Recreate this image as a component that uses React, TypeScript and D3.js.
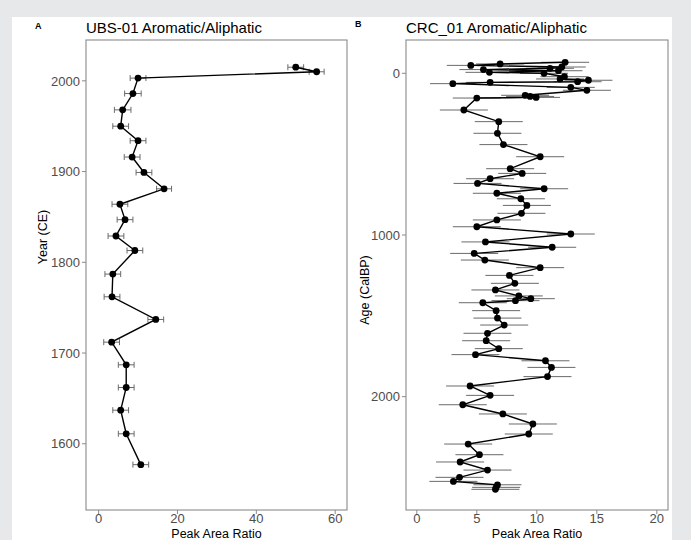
import React from "react";
import { scaleLinear, line } from "d3";

// panel A: UBS-01
const ubsYear = [2015, 2010, 2003, 1986, 1968, 1950, 1934, 1916, 1899, 1881, 1864, 1847, 1829, 1813, 1787, 1762, 1737, 1712, 1687, 1662, 1637, 1611, 1577];
const ubsRatio = [50, 55.3, 10, 8.7, 6.1, 5.6, 10, 8.5, 11.5, 16.6, 5.4, 6.7, 4.4, 9.2, 3.6, 3.4, 14.5, 3.3, 7, 7, 5.6, 7, 10.7];
const ubsErr = [2.0, 1.9, 2.0, 2.1, 2.1, 2.0, 2.0, 2.0, 2.0, 1.9, 2.0, 2.0, 2.0, 2.0, 2.0, 2.0, 2.0, 2.0, 2.0, 2.0, 2.0, 2.0, 2.0];
const ubsXTicks = [0, 20, 40, 60];
const ubsYTicks = [1600, 1700, 1800, 1900, 2000];

// panel B: CRC_01
const crcAge = [-68, -58, -49, -39, -31, -23, -16, -6, 0, 21, 35, 43, 52, 56, 64, 87, 105, 136, 143, 149, 153, 227, 299, 371, 441, 516, 590, 619, 652, 681, 714, 742, 776, 817, 866, 907, 949, 994, 1043, 1076, 1114, 1155, 1202, 1250, 1299, 1340, 1377, 1394, 1406, 1419, 1468, 1514, 1557, 1608, 1654, 1703, 1740, 1778, 1819, 1876, 1934, 1992, 2050, 2107, 2169, 2231, 2293, 2359, 2404, 2454, 2499, 2524, 2545, 2561, 2573];
const crcRatio = [12.36, 6.94, 4.5, 12.08, 11.1, 5.55, 11.8, 6.05, 10.6, 12.3, 11.94, 14.3, 13.4, 6.11, 3.0, 12.83, 14.17, 9.03, 9.44, 9.94, 5.0, 3.92, 6.83, 6.72, 7.22, 10.28, 7.78, 8.78, 6.11, 5.06, 10.61, 6.67, 8.67, 9.17, 8.72, 6.67, 5.0, 12.83, 5.72, 11.28, 4.78, 5.67, 10.28, 7.72, 8.17, 6.55, 8.5, 9.5, 8.22, 5.5, 6.61, 6.72, 7.28, 5.89, 5.78, 6.83, 4.89, 10.72, 11.22, 10.89, 4.44, 6.11, 3.83, 7.17, 9.67, 9.33, 4.28, 5.22, 3.61, 5.89, 3.56, 3.05, 6.72, 6.61, 6.55];
const crcErr = [2.0, 2.0, 2.0, 2.0, 2.0, 2.0, 2.0, 2.0, 2.0, 2.0, 2.0, 2.0, 2.0, 2.0, 1.9, 2.0, 2.0, 2.0, 2.0, 2.0, 2.0, 2.0, 2.0, 2.0, 2.0, 2.0, 2.0, 2.0, 2.0, 2.0, 2.0, 2.0, 2.0, 2.0, 2.0, 2.0, 2.0, 2.0, 2.0, 2.0, 2.0, 2.0, 2.0, 2.0, 2.0, 2.0, 2.0, 2.0, 2.0, 2.0, 2.0, 2.0, 2.0, 2.0, 2.0, 2.0, 2.0, 2.0, 2.0, 2.0, 2.0, 2.0, 2.0, 2.0, 2.0, 2.0, 2.0, 2.0, 2.0, 2.0, 2.0, 2.0, 2.0, 2.0, 2.0];
const crcXTicks = [0, 5, 10, 15, 20];
const crcYTicks = [0, 1000, 2000];

const FONT = "'Liberation Sans', Arial, sans-serif";
const TICK_COL = "#4d4d4d";
const BOX_COL = "#8a8a8a";

function Panel(props) {
  const { tag, tagY, title, yTitle, yTitleX, yTitleY, left, right, top, bottom, xDomain, yDomain,
    xs, ys, errs, xTicks, yTicks, capH } = props;
  const x = scaleLinear().domain(xDomain).range([left, right]);
  const y = scaleLinear().domain(yDomain).range([bottom, top]);
  const path = line()
    .x((d) => x(d[0]))
    .y((d) => y(d[1]));
  const pts = xs.map((v, i) => [v, ys[i]]);
  const clipId = "clip-" + tag;

  return (
    <g>
      <text x={left - 51} y={tagY} fontSize={9} fontWeight="bold" fontFamily={FONT}>{tag}</text>
      <text x={left} y={33} fontSize={15} fontFamily={FONT} fill="#000">{title}</text>
      <defs>
        <clipPath id={clipId}>
          <rect x={left} y={top} width={right - left} height={bottom - top} />
        </clipPath>
      </defs>
      <rect x={left} y={top} width={right - left} height={bottom - top} fill="#fff" />
      <g clipPath={`url(#${clipId})`}>
        {pts.map((p, i) => (
          <g key={"e" + i} stroke="#6a6a6a" strokeWidth={1}>
            <line x1={x(p[0] - errs[i])} x2={x(p[0] + errs[i])} y1={y(p[1])} y2={y(p[1])} />
            {capH > 0 && (
              <>
                <line x1={x(p[0] - errs[i])} x2={x(p[0] - errs[i])} y1={y(p[1]) - capH} y2={y(p[1]) + capH} />
                <line x1={x(p[0] + errs[i])} x2={x(p[0] + errs[i])} y1={y(p[1]) - capH} y2={y(p[1]) + capH} />
              </>
            )}
          </g>
        ))}
        <path d={path(pts)} fill="none" stroke="#000" strokeWidth={1.4} />
        {pts.map((p, i) => (
          <circle key={"c" + i} cx={x(p[0])} cy={y(p[1])} r={3.4} fill="#000" />
        ))}
      </g>
      <rect x={left} y={top} width={right - left} height={bottom - top} fill="none" stroke={BOX_COL} strokeWidth={1.1} />
      {xTicks.map((t) => (
        <g key={"xt" + t}>
          <line x1={x(t)} x2={x(t)} y1={bottom} y2={bottom + 4} stroke={BOX_COL} />
          <text x={x(t)} y={523} textAnchor="middle" fontSize={13} fontFamily={FONT} fill={TICK_COL}>{t}</text>
        </g>
      ))}
      {yTicks.map((t) => (
        <g key={"yt" + t}>
          <line x1={left - 4} x2={left} y1={y(t)} y2={y(t)} stroke={BOX_COL} />
          <text x={left - 6} y={y(t)} dy="0.36em" textAnchor="end" fontSize={13} fontFamily={FONT} fill={TICK_COL}>{t}</text>
        </g>
      ))}
      <text x={(left + right) / 2} y={538} textAnchor="middle" fontSize={12.5} fontFamily={FONT} fill="#000">Peak Area Ratio</text>
      <text transform={`translate(${yTitleX},${yTitleY}) rotate(-90)`} textAnchor="middle" fontSize={12.5} fontFamily={FONT} fill="#000">{yTitle}</text>
    </g>
  );
}

export default function App() {
  return (
    <div style={{ position: "fixed", left: 0, top: 0 }}>
      <svg width={691} height={540} style={{ display: "block" }}>
        <rect x={0} y={0} width={691} height={540} fill="#e7e8ea" />
        <rect x={12} y={17} width={660} height={523} fill="#fff" />
        <Panel
          tag="A" tagY={29}
          title="UBS-01 Aromatic/Aliphatic"
          yTitle="Year (CE)" yTitleX={47} yTitleY={237}
          left={86} right={347} top={40} bottom={510}
          xDomain={[-3.2, 63]} yDomain={[1527, 2045]}
          xs={ubsRatio} ys={ubsYear} errs={ubsErr}
          xTicks={ubsXTicks} yTicks={ubsYTicks} capH={3}
        />
        <Panel
          tag="B" tagY={27}
          title="CRC_01 Aromatic/Aliphatic"
          yTitle="Age (CalBP)" yTitleX={369} yTitleY={290}
          left={406} right={668} top={40} bottom={510}
          xDomain={[-0.9, 20.93]} yDomain={[2701, -206]}
          xs={crcRatio} ys={crcAge} errs={crcErr}
          xTicks={crcXTicks} yTicks={crcYTicks} capH={0}
        />
      </svg>
    </div>
  );
}
